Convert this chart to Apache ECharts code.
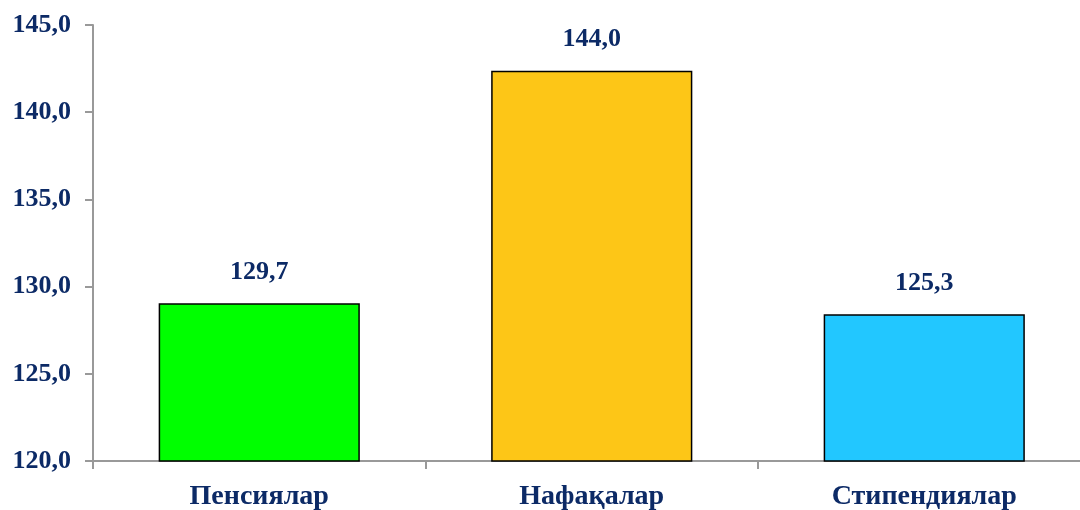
<!DOCTYPE html>
<html>
<head>
<meta charset="utf-8">
<script src="https://cdn.jsdelivr.net/npm/echarts@6/dist/echarts.min.js"></script>
<style>html,body{margin:0;padding:0;background:#fff}#c{width:1080px;height:510px}</style>
</head>
<body>
<div id="c"></div>
<script>
const categories = ['Пенсиялар', 'Нафақалар', 'Стипендиялар'];
const barValues = [129.04, 142.38, 128.41];
const barLabels = ['129,7', '144,0', '125,3'];
const barColors = ['#00ff00', '#fdc617', '#22c7ff'];
const yTicks = [120, 125, 130, 135, 140, 145];

const navy = '#0c2a66';
const font = 'Liberation Serif';
const chart = echarts.init(document.getElementById('c'));
chart.setOption({
  animation: false,
  grid: { left: 93, width: 997.5, top: 25, bottom: 49, containLabel: false, outerBoundsMode: 'none' },
  xAxis: {
    type: 'category',
    data: categories,
    axisLine: { lineStyle: { color: '#999', width: 2 } },
    axisTick: { show: true, length: 8, lineStyle: { color: '#999', width: 2 } },
    axisLabel: { color: navy, fontFamily: font, fontWeight: 'bold', fontSize: 28, margin: 22 }
  },
  yAxis: {
    type: 'value',
    min: yTicks[0], max: yTicks[yTicks.length - 1], interval: 5,
    axisLine: { show: true, lineStyle: { color: '#999', width: 2 } },
    axisTick: { show: true, length: 8, lineStyle: { color: '#999', width: 2 } },
    splitLine: { show: false },
    axisLabel: {
      color: navy, fontFamily: font, fontWeight: 'bold', fontSize: 26, margin: 22,
      padding: [4, 0, 0, 0],
      formatter: v => v.toFixed(1).replace('.', ',')
    }
  },
  series: [{
    type: 'bar',
    barWidth: '60.5%',
    data: barValues.map((v, i) => ({
      value: v,
      itemStyle: { color: barColors[i], borderColor: '#000', borderWidth: 1.5 }
    })),
    label: {
      show: true, position: 'top', distance: 18,
      color: navy, fontFamily: font, fontWeight: 'bold', fontSize: 26,
      formatter: p => barLabels[p.dataIndex]
    }
  }]
});
</script>
</body>
</html>
